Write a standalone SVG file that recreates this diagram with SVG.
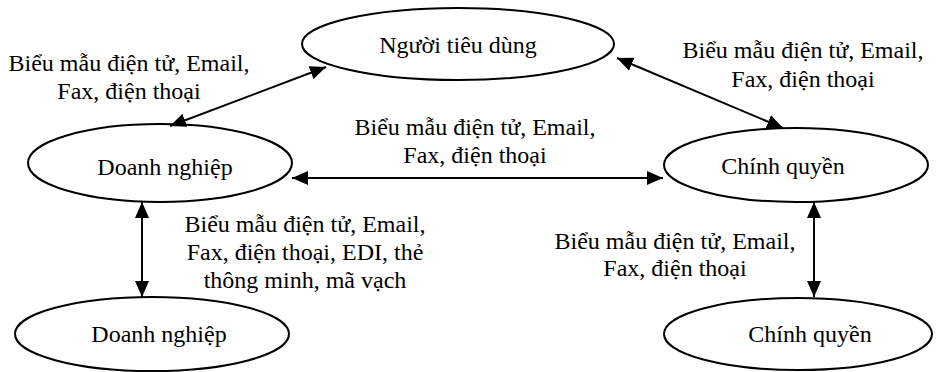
<svg xmlns="http://www.w3.org/2000/svg" width="936" height="372" viewBox="0 0 936 372">
<style>
.n ellipse{fill:#fff;stroke:#000;stroke-width:2}
text{font-family:"Times New Roman","Liberation Serif",Tinos,"Noto Serif","DejaVu Serif",serif;font-size:24px;fill:#000;text-anchor:middle}
.c line{stroke:#000;stroke-width:2;marker-start:url(#ah);marker-end:url(#ah)}
</style>
<defs>
<marker id="ah" markerUnits="userSpaceOnUse" markerWidth="17" markerHeight="15" refX="16" refY="7" orient="auto-start-reverse" viewBox="0 0 17 14">
<path d="M0,0 L16,7 L0,14 z" fill="#000"/>
</marker>
</defs>
<g id="n1" class="n"><ellipse cx="458" cy="44" rx="156" ry="36"/><text x="458" y="53">Người tiêu dùng</text></g>
<g id="n2" class="n"><ellipse cx="160" cy="163" rx="132" ry="39"/><text x="165" y="175">Doanh nghiệp</text></g>
<g id="n3" class="n"><ellipse cx="796" cy="165" rx="132" ry="37"/><text x="783" y="174">Chính quyền</text></g>
<g id="n4" class="n"><ellipse cx="152" cy="334" rx="137" ry="37"/><text x="159" y="342">Doanh nghiệp</text></g>
<g id="n5" class="n"><ellipse cx="798" cy="334" rx="134" ry="36"/><text x="810" y="342">Chính quyền</text></g>
<g id="connectors" class="c">
<line x1="170" y1="126" x2="326" y2="67"/>
<line x1="617" y1="58" x2="783" y2="128"/>
<line x1="292" y1="178" x2="663" y2="178"/>
<line x1="142" y1="202" x2="142" y2="297"/>
<line x1="814" y1="202" x2="814" y2="297"/>
</g>
<g id="labels">
<text x="129" y="71">Biểu mẫu điện tử, Email,</text>
<text x="129" y="99">Fax, điện thoại</text>
<text x="803" y="58">Biểu mẫu điện tử, Email,</text>
<text x="803" y="87">Fax, điện thoại</text>
<text x="475" y="135">Biểu mẫu điện tử, Email,</text>
<text x="475" y="163">Fax, điện thoại</text>
<text x="305" y="232">Biểu mẫu điện tử, Email,</text>
<text x="305" y="260">Fax, điện thoại, EDI, thẻ</text>
<text x="305" y="288">thông minh, mã vạch</text>
<text x="675" y="249">Biểu mẫu điện tử, Email,</text>
<text x="675" y="276">Fax, điện thoại</text>
</g>
</svg>
